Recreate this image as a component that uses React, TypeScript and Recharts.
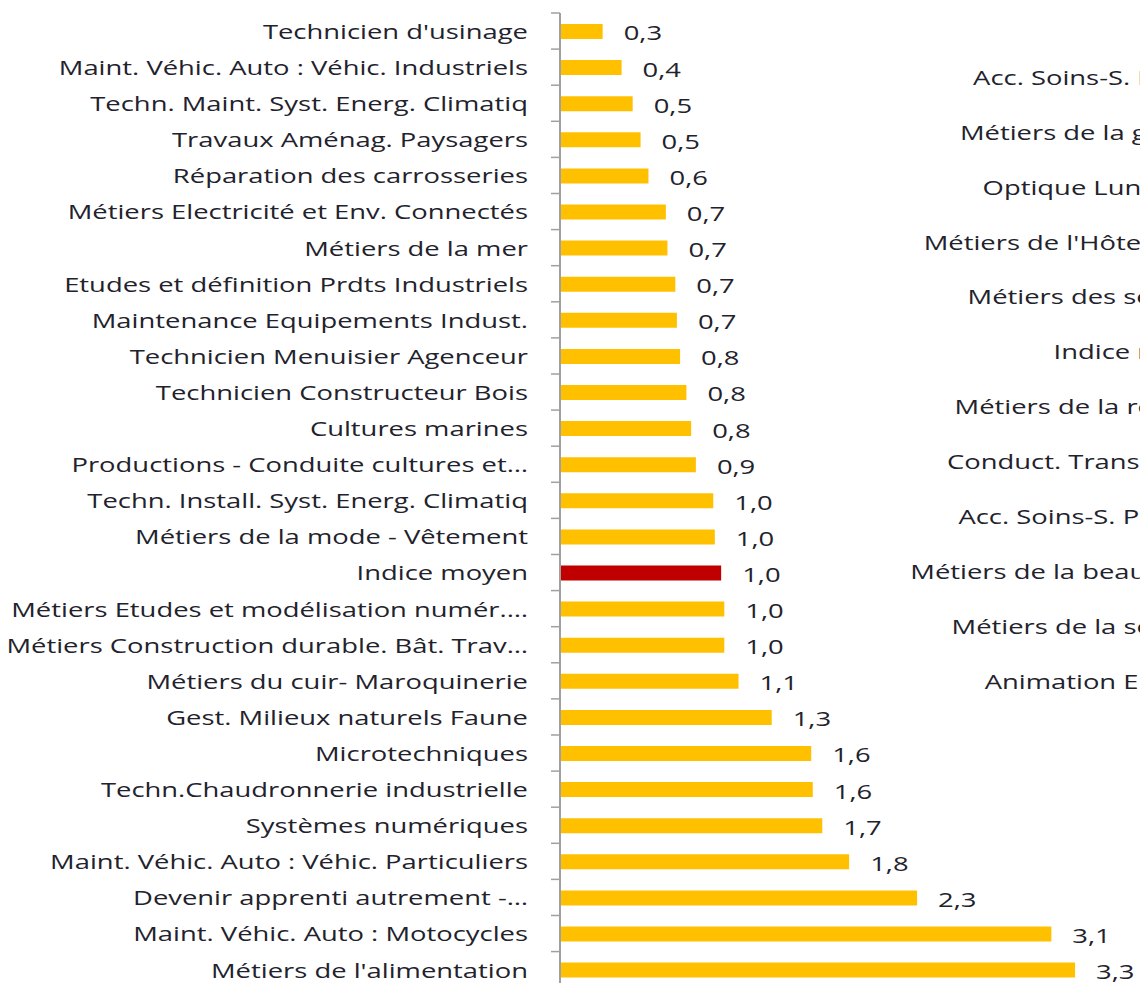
import React from "react";
import { BarChart, Bar, XAxis, YAxis, Cell, LabelList } from "recharts";

// left chart: categories top to bottom
const categories = [
  "Technicien d'usinage",
  "Maint. Véhic. Auto : Véhic. Industriels",
  "Techn. Maint. Syst. Energ. Climatiq",
  "Travaux Aménag. Paysagers",
  "Réparation des carrosseries",
  "Métiers Electricité et Env. Connectés",
  "Métiers de la mer",
  "Etudes et définition Prdts Industriels",
  "Maintenance Equipements Indust.",
  "Technicien Menuisier Agenceur",
  "Technicien Constructeur Bois",
  "Cultures marines",
  "Productions - Conduite cultures et…",
  "Techn. Install. Syst. Energ. Climatiq",
  "Métiers de la mode - Vêtement",
  "Indice moyen",
  "Métiers Etudes et modélisation numér.…",
  "Métiers Construction durable. Bât. Trav…",
  "Métiers du cuir- Maroquinerie",
  "Gest. Milieux naturels Faune",
  "Microtechniques",
  "Techn.Chaudronnerie industrielle",
  "Systèmes numériques",
  "Maint. Véhic. Auto : Véhic. Particuliers",
  "Devenir apprenti autrement -…",
  "Maint. Véhic. Auto : Motocycles",
  "Métiers de l'alimentation",
];

const values = [
  0.27, 0.39, 0.46, 0.51, 0.56, 0.67, 0.68, 0.73, 0.74, 0.76, 0.8, 0.83, 0.86,
  0.97, 0.98, 1.02, 1.04, 1.04, 1.13, 1.34, 1.59, 1.6, 1.66, 1.83, 2.26, 3.11,
  3.26,
];

const highlight = "Indice moyen";

// second chart, cut off at the right edge
const rightCategories = [
  "Acc. Soins-S. Pers. A",
  "Métiers de la gestion",
  "Optique Lunetterie",
  "Métiers de l'Hôtellerie…",
  "Métiers des services",
  "Indice moyen",
  "Métiers de la relation",
  "Conduct. Transport R.",
  "Acc. Soins-S. Pers. St.",
  "Métiers de la beauté et…",
  "Métiers de la sécurité",
  "Animation Enfance",
];

const FONT = "'Open Sans', sans-serif";
const FONT_SIZE = 20;
const STRETCH = 1.37;
const TEXT = "#22222c";
const AXIS = "#a0a0a0";

const PLOT_TOP = 13;
const BAND = 36.1;
const PLOT_H = BAND * categories.length;

const RIGHT_TOP = 49.5;
const RIGHT_BAND = 54.9;

const leftData = categories.map((name, i) => ({ name, value: values[i] }));
const rightData = rightCategories.map((name) => ({ name }));

const fmt = (v: number) => v.toFixed(1).replace(".", ",");

function Label({ x, y, anchor, children }: any) {
  return (
    <text
      transform={`translate(${x},${y}) scale(${STRETCH},1)`}
      textAnchor={anchor}
      dominantBaseline="central"
      fontFamily={FONT}
      fontSize={FONT_SIZE}
      fill={TEXT}
    >
      {children}
    </text>
  );
}

function LeftTick(props: any) {
  const { x, y, payload, index } = props;
  const last = index === categories.length - 1;
  return (
    <g>
      <line x1={x - 9} x2={x} y1={y - BAND / 2} y2={y - BAND / 2} stroke={AXIS} strokeWidth={1.5} />
      {last && (
        <line x1={x - 9} x2={x} y1={y + BAND / 2} y2={y + BAND / 2} stroke={AXIS} strokeWidth={1.5} />
      )}
      <Label x={x - 32} y={y} anchor="end">
        {payload.value}
      </Label>
    </g>
  );
}

function RightTick(props: any) {
  const { x, y, payload } = props;
  return (
    <Label x={x - 30} y={y} anchor="end">
      {payload.value}
    </Label>
  );
}

function ValueLabel(props: any) {
  const { x, y, width, height, value } = props;
  return (
    <Label x={x + width + 21} y={y + height / 2 + 1} anchor="start">
      {fmt(value)}
    </Label>
  );
}

export default function App() {
  return (
    <div
      style={{
        position: "absolute",
        left: 0,
        top: 0,
        width: 1140,
        height: 983,
        overflow: "hidden",
        background: "#fff",
      }}
    >
      <div style={{ position: "absolute", left: 0, top: 0 }}>
        <BarChart
          width={1140}
          height={PLOT_TOP + PLOT_H}
          data={leftData}
          layout="vertical"
          margin={{ top: PLOT_TOP, right: 27, left: 0, bottom: 0 }}
          barCategoryGap={0}
        >
          <XAxis type="number" domain={[0, 3.5]} hide />
          <YAxis
            type="category"
            dataKey="name"
            width={560}
            tickSize={0}
            tickMargin={0}
            tickLine={false}
            axisLine={{ stroke: AXIS, strokeWidth: 2 }}
            tick={<LeftTick />}
            interval={0}
          />
          <Bar dataKey="value" barSize={15} isAnimationActive={false}>
            {leftData.map((d) => (
              <Cell key={d.name} fill={d.name === highlight ? "#C00000" : "#FFC000"} />
            ))}
            <LabelList dataKey="value" content={<ValueLabel />} />
          </Bar>
        </BarChart>
      </div>
      <div style={{ position: "absolute", left: 880, top: 0 }}>
        <BarChart
          width={700}
          height={RIGHT_TOP + RIGHT_BAND * rightCategories.length}
          data={rightData}
          layout="vertical"
          margin={{ top: RIGHT_TOP, right: 0, left: 0, bottom: 0 }}
        >
          <XAxis type="number" domain={[0, 3.5]} hide />
          <YAxis
            type="category"
            dataKey="name"
            width={375}
            tickSize={0}
            tickMargin={0}
            tickLine={false}
            axisLine={{ stroke: AXIS, strokeWidth: 2 }}
            tick={<RightTick />}
            interval={0}
          />
        </BarChart>
      </div>
    </div>
  );
}
